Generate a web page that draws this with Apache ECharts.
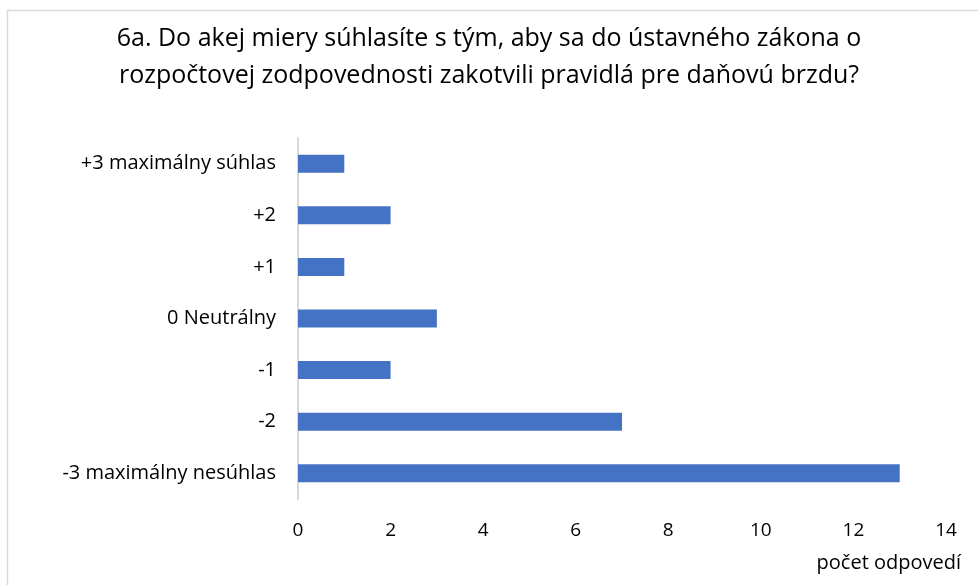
<!DOCTYPE html>
<html>
<head>
<meta charset="utf-8">
<script src="https://cdn.jsdelivr.net/npm/echarts@6/dist/echarts.min.js"></script>
<style>
  html, body { margin: 0; padding: 0; background: #fff; }
  #chart { width: 978px; height: 585px; }
</style>
</head>
<body>
<div id="chart"></div>
<script>
// bottom to top, as the category axis draws them
const categories = ['-3 maximálny nesúhlas', '-2', '-1', '0 Neutrálny', '+1', '+2', '+3 maximálny súhlas'];
const counts = [13, 7, 2, 3, 1, 2, 1];
const titleText = '6a. Do akej miery súhlasíte s tým, aby sa do ústavného zákona o\nrozpočtovej zodpovednosti zakotvili pravidlá pre daňovú brzdu?';
const axisName = 'počet odpovedí';

const font = '"Open Sans", "Noto Sans", sans-serif';

const chart = echarts.init(document.getElementById('chart'));

chart.setOption({
  animation: false,
  backgroundColor: '#fff',
  title: {
    text: titleText,
    left: 'center',
    top: 15,
    textStyle: {
      fontFamily: font,
      fontSize: 25,
      fontWeight: 'normal',
      color: '#000',
      lineHeight: 37
    }
  },
  graphic: [
    {
      type: 'rect',
      shape: { x: 7.5, y: 10.5, width: 980, height: 600 },
      style: { fill: 'none', stroke: '#d9d9d9', lineWidth: 1.5 },
      silent: true
    },
    {
      type: 'text',
      right: 17,
      top: 553,
      style: { text: axisName, font: '20px ' + font, fill: '#000' }
    }
  ],
  grid: { left: 298, right: 32, top: 138, bottom: 86 },
  xAxis: {
    type: 'value',
    min: 0,
    max: 14,
    interval: 2,
    axisLine: { show: false },
    axisTick: { show: false },
    splitLine: { show: false },
    axisLabel: { fontFamily: font, fontSize: 19, color: '#000', margin: 22 }
  },
  yAxis: {
    type: 'category',
    data: categories,
    axisLine: { show: true, lineStyle: { color: '#d9d9d9', width: 2 } },
    axisTick: { show: false },
    axisLabel: { fontFamily: font, fontSize: 20, color: '#000', margin: 22 }
  },
  series: [{
    type: 'bar',
    data: counts,
    barWidth: 18,
    itemStyle: { color: '#4472C4' }
  }]
});
</script>
</body>
</html>
